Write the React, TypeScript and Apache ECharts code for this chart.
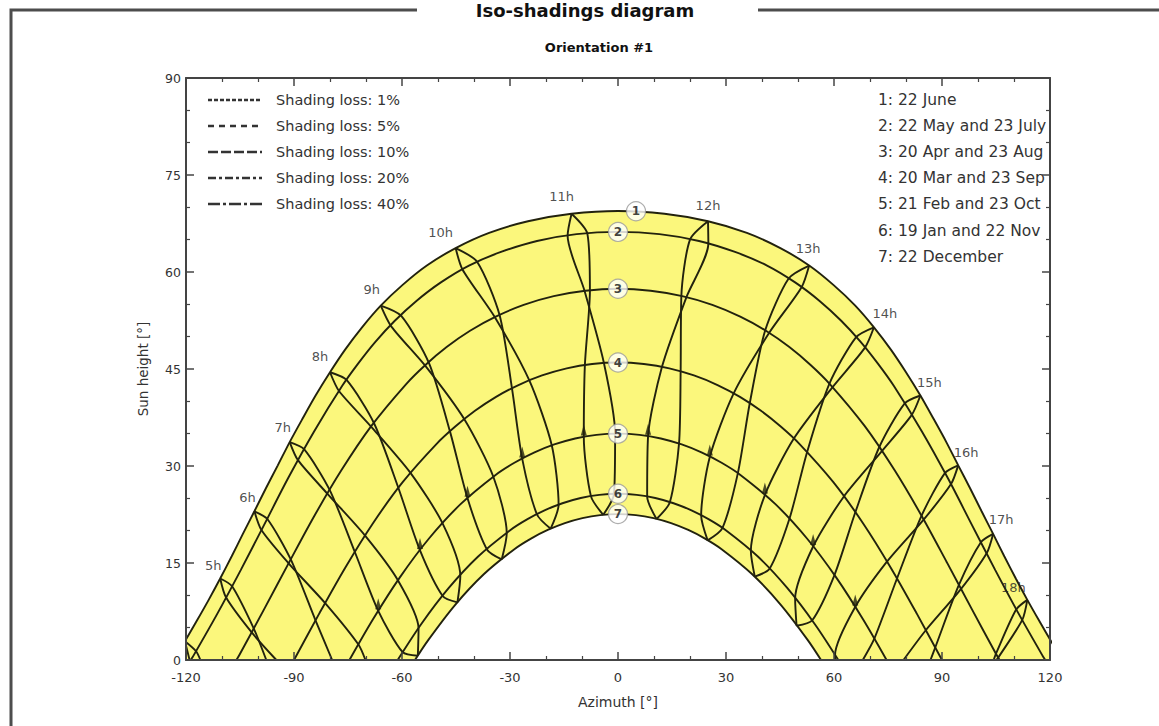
import React, { useEffect, useRef } from "react";
import * as echarts from "echarts";

// ---------- data ----------
const shadingLegend = [
  "Shading loss: 1%",
  "Shading loss: 5%",
  "Shading loss: 10%",
  "Shading loss: 20%",
  "Shading loss: 40%",
];
const dateLegend = [
  "1: 22 June",
  "2: 22 May and 23 July",
  "3: 20 Apr and 23 Aug",
  "4: 20 Mar and 23 Sep",
  "5: 21 Feb and 23 Oct",
  "6: 19 Jan and 22 Nov",
  "7: 22 December",
];
const dateNumbers = ["1", "2", "3", "4", "5", "6", "7"];
const dateNumberPoints = [
  [5, 69.4], [0, 66.2], [0, 57.4], [0, 46.0], [0, 35.0], [0, 25.7], [0, 22.56],
];

// sun paths [azimuth, height]
const curve1 = [
  [-123.6, 0], [-120.3, 2.9], [-117.0, 6.06], [-113.7, 9.3], [-110.5, 12.6], [-107.3, 16.04],
  [-104.2, 19.5], [-101.0, 23.0], [-97.8, 26.56], [-94.5, 30.1], [-91.2, 33.7], [-87.65, 37.3],
  [-84.0, 40.9], [-80.0, 44.5], [-75.8, 48.0], [-71.1, 51.45], [-65.9, 54.8], [-59.9, 57.97],
  [-53.1, 61.0], [-45.1, 63.7], [-35.8, 66.05], [-25.0, 67.85], [-12.9, 69.0], [0, 69.44],
  [12.9, 69.0], [25.0, 67.85], [35.8, 66.05], [45.1, 63.7], [53.1, 61.0], [59.9, 57.97],
  [65.9, 54.8], [71.1, 51.45], [75.8, 48.0], [80.0, 44.5], [84.0, 40.9], [87.65, 37.3],
  [91.2, 33.7], [94.5, 30.1], [97.8, 26.56], [101.0, 23.0], [104.2, 19.5], [107.3, 16.04],
  [110.5, 12.6], [113.7, 9.3], [117.0, 6.06], [120.3, 2.9], [123.6, 0],
];
const curve2 = [
  [-118.7, 0], [-118.1, 0.5], [-111.4, 7.05], [-104.8, 13.9], [-98.3, 20.9], [-91.65, 28.1],
  [-84.5, 35.27], [-76.6, 42.4], [-72.2, 45.83], [-67.4, 49.2], [-62.0, 52.46], [-56.0, 55.53],
  [-49.2, 58.4], [-41.4, 61.0], [-32.5, 63.1], [-22.5, 64.8], [-11.5, 65.85], [0, 66.2],
  [11.5, 65.85], [22.5, 64.8], [32.5, 63.1], [41.4, 61.0], [49.2, 58.4], [56.0, 55.53],
  [62.0, 52.46], [67.4, 49.2], [72.2, 45.83], [76.6, 42.4], [84.5, 35.27], [91.65, 28.1],
  [98.3, 20.9], [104.8, 13.9], [111.4, 7.05], [118.1, 0.5], [118.7, 0],
];
const curve3 = [
  [-106.0, 0], [-105.1, 0.85], [-98.25, 7.9], [-91.4, 15.05], [-84.4, 22.23], [-76.85, 29.33],
  [-68.5, 36.2], [-58.9, 42.64], [-53.5, 45.63], [-47.6, 48.4], [-41.1, 50.92], [-33.96, 53.1],
  [-26.2, 54.92], [-17.85, 56.27], [-9.06, 57.1], [0, 57.4], [9.06, 57.1], [17.85, 56.27],
  [26.2, 54.92], [33.96, 53.1], [41.1, 50.92], [47.6, 48.4], [53.5, 45.63], [58.9, 42.64],
  [68.5, 36.2], [76.85, 29.33], [84.4, 22.23], [91.4, 15.05], [98.25, 7.9], [105.1, 0.85],
  [106.0, 0],
];
const curve4 = [
  [-90, 0], [-83.0, 7.17], [-75.81, 14.24], [-68.15, 21.08], [-59.76, 27.54], [-50.38, 33.43],
  [-45.2, 36.1], [-39.73, 38.53], [-33.87, 40.69], [-27.65, 42.52], [-21.1, 44.0], [-14.24, 45.1],
  [-7.18, 45.77], [0, 46.0], [7.18, 45.77], [14.24, 45.1], [21.1, 44.0], [27.65, 42.52],
  [33.87, 40.69], [39.73, 38.53], [45.2, 36.1], [50.38, 33.43], [59.76, 27.54], [68.15, 21.08],
  [75.81, 14.24], [83.0, 7.17], [90, 0],
];
const curve5 = [
  [-74.6, 0], [-68.1, 6.26], [-60.64, 12.74], [-52.56, 18.75], [-43.73, 24.1], [-34.0, 28.62],
  [-28.78, 30.5], [-23.34, 32.07], [-17.7, 33.33], [-11.9, 34.26], [-5.98, 34.82], [0, 35.0],
  [5.98, 34.82], [11.9, 34.26], [17.7, 33.33], [23.34, 32.07], [28.78, 30.5], [34.0, 28.62],
  [43.73, 24.1], [52.56, 18.75], [60.64, 12.74], [68.1, 6.26], [74.6, 0],
];
const curve6 = [
  [-61.2, 0], [-54.69, 5.53], [-47.06, 11.1], [-38.85, 16.0], [-29.95, 20.07], [-25.26, 21.74],
  [-20.41, 23.13], [-15.44, 24.24], [-10.35, 25.05], [-5.2, 25.53], [0, 25.7], [5.2, 25.53],
  [10.35, 25.05], [15.44, 24.24], [20.41, 23.13], [25.26, 21.74], [29.95, 20.07], [38.85, 16.0],
  [47.06, 11.1], [54.69, 5.53], [61.2, 0],
];
const curve7 = [
  [-56.4, 0], [-52.72, 3.08], [-45.28, 8.5], [-37.29, 13.26], [-28.69, 17.18], [-24.17, 18.78],
  [-19.52, 20.11], [-14.75, 21.17], [-9.89, 21.94], [-4.96, 22.41], [0, 22.56], [4.96, 22.41],
  [9.89, 21.94], [14.75, 21.17], [19.52, 20.11], [24.17, 18.78], [28.69, 17.18], [37.29, 13.26],
  [45.28, 8.5], [52.72, 3.08], [56.4, 0],
];
const dateCurves = [curve1, curve2, curve3, curve4, curve5, curve6, curve7];

// hour lines (legal time), two branches: A = Jan..Jun dates, B = Jul..Nov dates
const hourNames = ["4h", "5h", "6h", "7h", "8h", "9h", "10h", "11h", "12h", "13h", "14h", "15h", "16h", "17h", "18h"];
const hourA = [
  [[-120.3, 2.9], [-117.2, 1.35], [-116.0, 0]],
  [[-110.5, 12.6], [-107.2, 11.4], [-101.2, 4.9], [-97.7, 0]],
  [[-101.0, 23.0], [-97.4, 21.8], [-90.9, 15.55], [-84.0, 6.1], [-79.4, 0]],
  [[-91.2, 33.7], [-87.2, 32.6], [-80.1, 26.3], [-73.1, 16.7], [-66.6, 7.6], [-59.8, 1.2], [-55.6, 0.65]],
  [[-80.0, 44.5], [-75.4, 43.3], [-67.8, 36.65], [-61.0, 26.6], [-55.0, 16.95], [-48.7, 9.9], [-44.6, 8.9]],
  [[-65.9, 54.8], [-60.2, 53.2], [-52.5, 45.9], [-46.6, 35.2], [-41.8, 25.0], [-36.4, 17.1], [-32.3, 15.55]],
  [[-45.1, 63.7], [-39.1, 61.55], [-32.9, 53.35], [-29.45, 42.0], [-26.6, 31.1], [-22.5, 22.5], [-18.7, 20.3]],
  [[-12.9, 69.0], [-8.5, 65.9], [-7.8, 57.15], [-9.2, 45.6], [-9.5, 34.5], [-7.5, 25.3], [-4.1, 22.45]],
  [[25.0, 67.85], [25.1, 64.4], [19.0, 56.1], [12.2, 45.3], [8.35, 34.6], [8.1, 25.3], [10.7, 21.8]],
  [[53.1, 61.0], [51.0, 57.65], [42.0, 50.6], [32.1, 41.2], [25.5, 31.4], [23.1, 22.35], [24.9, 18.5]],
  [[71.1, 51.45], [68.6, 48.3], [59.6, 42.2], [48.8, 34.2], [40.8, 25.5], [36.9, 16.9], [38.0, 12.9]],
  [[84.0, 40.9], [81.6, 37.9], [73.3, 32.3], [62.7, 25.25], [54.2, 17.55], [49.2, 9.5], [49.6, 5.3]],
  [[94.5, 30.1], [92.5, 27.2], [84.9, 21.7], [74.7, 15.2], [65.9, 8.2], [60.3, 0.8], [60.3, 0]],
  [[104.2, 19.5], [102.4, 16.5], [95.3, 11.0], [85.5, 4.6], [79.3, 0]],
  [[113.7, 9.3], [112.3, 6.2], [105.6, 0.35], [105.1, 0]],
];
const hourB = [
  [[-120.3, 2.9], [-119.0, 0]],
  [[-110.5, 12.6], [-108.9, 9.7], [-101.8, 4.3], [-94.9, 0]],
  [[-101.0, 23.0], [-99.05, 20.1], [-91.5, 14.95], [-81.35, 8.8], [-72.1, 2.4], [-70.15, 0]],
  [[-91.2, 33.7], [-88.9, 30.9], [-80.7, 25.7], [-70.2, 19.2], [-61.1, 12.3], [-55.4, 4.9], [-55.6, 0.65]],
  [[-80.0, 44.5], [-77.5, 41.6], [-68.6, 36.1], [-57.6, 28.9], [-48.7, 21.1], [-43.8, 13.0], [-44.6, 8.9]],
  [[-65.9, 54.8], [-63.0, 51.6], [-53.4, 45.4], [-42.6, 37.15], [-34.6, 28.3], [-30.9, 19.6], [-32.3, 15.55]],
  [[-45.1, 63.7], [-43.2, 60.4], [-34.2, 53.0], [-24.6, 43.2], [-18.4, 33.2], [-16.5, 24.0], [-18.7, 20.3]],
  [[-12.9, 69.0], [-14.0, 65.6], [-9.3, 57.1], [-3.9, 45.9], [-0.8, 35.0], [-1.1, 25.7], [-4.1, 22.45]],
  [[25.0, 67.85], [20.0, 65.0], [17.6, 56.3], [17.4, 44.6], [16.95, 33.45], [14.4, 24.4], [10.7, 21.8]],
  [[53.1, 61.0], [47.4, 59.0], [40.9, 51.0], [36.6, 39.7], [33.3, 28.9], [29.0, 20.4], [24.9, 18.5]],
  [[71.1, 51.45], [66.1, 49.9], [58.7, 42.7], [52.5, 32.1], [47.6, 21.8], [42.1, 14.1], [38.0, 12.9]],
  [[84.0, 40.9], [79.6, 39.65], [72.55, 32.9], [65.9, 22.8], [60.1, 13.1], [53.9, 6.1], [49.6, 5.3]],
  [[94.5, 30.1], [90.8, 28.9], [84.3, 22.3], [77.5, 12.6], [71.2, 3.3], [68.0, 0]],
  [[104.2, 19.5], [100.8, 18.2], [94.7, 11.6], [88.1, 1.9], [86.8, 0]],
  [[113.7, 9.3], [110.6, 7.8], [105.0, 1.0], [104.35, 0]],
];

// ---------- layout / style ----------
const YELLOW = "#fbf77c";
const INK = "#22220e";
const AXIS = "#444";
const FONT = "DejaVu Sans";
const hourLabelOffsets: Record<string, number[]> = {
  "5h": [-7, -13], "6h": [-7, -14], "7h": [-7, -15], "8h": [-10, -16], "9h": [-9, -16],
  "10h": [-15, -16], "11h": [-10, -17], "12h": [0, -16], "13h": [-1, -17], "14h": [11, -14],
  "15h": [9, -13], "16h": [8, -13], "17h": [8, -14], "18h": [-14, -12],
};
const legendDashes = [[4, 2], [6, 5], [10, 3], [8, 3, 3, 3], [12, 3, 3, 3]];

function buildOption() {
  const lineBase = { type: "line", symbol: "none", silent: true, clip: true };
  const series: any[] = [];
  series.push({
    ...lineBase, data: curve1, smooth: 0.3, lineStyle: { width: 0 },
    areaStyle: { color: YELLOW, opacity: 1 }, z: 1,
  });
  series.push({
    ...lineBase, data: curve7, smooth: 0.3, lineStyle: { width: 0 },
    areaStyle: { color: "#ffffff", opacity: 1 }, z: 1,
  });
  dateCurves.forEach((c) =>
    series.push({ ...lineBase, data: c, smooth: 0.3, lineStyle: { color: INK, width: 1.9 }, z: 3 })
  );
  [...hourA, ...hourB].forEach((h) =>
    series.push({ ...lineBase, data: h, smooth: 0.25, lineStyle: { color: INK, width: 1.9 }, z: 3 })
  );
  // little arrow heads on the February branch (curve 5 point of each hour line)
  const arrows = hourA.slice(3, 13).map((h) => h[4]);
  series.push({
    type: "scatter", silent: true, z: 4, symbol: "triangle", symbolSize: [6, 11],
    symbolOffset: [0, -7], itemStyle: { color: INK }, data: arrows,
  });
  // hour labels
  series.push({
    type: "scatter", silent: true, z: 5, symbolSize: 0,
    data: hourNames
      .map((n, i) => ({ n, p: hourA[i][0] }))
      .filter((d) => hourLabelOffsets[d.n])
      .map((d) => ({
        name: d.n, value: d.p,
        label: { offset: hourLabelOffsets[d.n] },
      })),
    label: {
      show: true, position: "inside", formatter: "{b}",
      fontFamily: FONT, fontSize: 13, color: "#222",
    },
  });
  // date numbers
  series.push({
    type: "scatter", silent: true, z: 6, symbol: "circle", symbolSize: 19,
    itemStyle: { color: "#ffffff", borderColor: "#9a9a9a", borderWidth: 1.2 },
    data: dateNumbers.map((n, i) => ({ name: n, value: dateNumberPoints[i] })),
    label: {
      show: true, position: "inside", formatter: "{b}",
      fontFamily: FONT, fontSize: 12, fontWeight: "bold", color: "#111",
    },
  });

  const axisCommon = {
    type: "value", z: 10,
    axisLine: { show: true, onZero: false, lineStyle: { color: AXIS, width: 2 } },
    axisTick: { show: true, inside: true, length: 8, lineStyle: { color: AXIS, width: 1.5 } },
    minorTick: { show: true, splitNumber: 3, length: 4, lineStyle: { color: AXIS, width: 1.2 } },
    splitLine: { show: false },
  };
  const graphic: any[] = [
    { type: "polyline", silent: true, shape: { points: [[417, 10], [11, 10], [11, 726]] },
      style: { stroke: "#4d4d4d", lineWidth: 3, fill: null } },
    { type: "line", silent: true, shape: { x1: 758, y1: 10, x2: 1159, y2: 10 },
      style: { stroke: "#4d4d4d", lineWidth: 3 } },
    { type: "text", x: 585, y: 10, silent: true,
      style: { text: "Iso-shadings diagram", fontFamily: FONT, fontSize: 18, fontWeight: "bold",
        fill: "#111", align: "center", verticalAlign: "middle" } },
    { type: "text", x: 599, y: 47, silent: true,
      style: { text: "Orientation #1", fontFamily: FONT, fontSize: 13, fontWeight: "bold",
        fill: "#111", align: "center", verticalAlign: "middle" } },
  ];
  shadingLegend.forEach((t, i) => {
    const y = 100 + i * 26;
    graphic.push({ type: "line", silent: true, shape: { x1: 208, y1: y, x2: 262, y2: y },
      style: { stroke: "#333", lineWidth: 2.5, lineDash: legendDashes[i] } });
    graphic.push({ type: "text", x: 276, y, silent: true,
      style: { text: t, fontFamily: FONT, fontSize: 14.5, fill: "#333", align: "left", verticalAlign: "middle" } });
  });
  dateLegend.forEach((t, i) => {
    const y = 100 + i * 26.1;
    graphic.push({ type: "text", x: 878, y, silent: true,
      style: { text: t, fontFamily: FONT, fontSize: 15.5, fill: "#333", align: "left", verticalAlign: "middle" } });
  });
  // the plot frame clips the date legend on its right side
  graphic.push({ type: "rect", silent: true, shape: { x: 1052, y: 84, width: 107, height: 190 },
    style: { fill: "#ffffff" } });

  return {
    animation: false,
    backgroundColor: "#ffffff",
    textStyle: { fontFamily: FONT },
    grid: { left: 186, right: 109, top: 78, bottom: 66 },
    xAxis: [
      { ...axisCommon, min: -120, max: 120, interval: 30, position: "bottom",
        axisLabel: { fontFamily: FONT, fontSize: 13, color: "#333", margin: 11 },
        name: "Azimuth [°]", nameLocation: "middle", nameGap: 35,
        nameTextStyle: { fontFamily: FONT, fontSize: 14, color: "#333" } },
      { ...axisCommon, min: -120, max: 120, interval: 30, position: "top", axisLabel: { show: false } },
    ],
    yAxis: [
      { ...axisCommon, min: 0, max: 90, interval: 15, position: "left",
        axisLabel: { fontFamily: FONT, fontSize: 12.5, color: "#333", margin: 5 },
        name: "Sun height [°]", nameLocation: "middle", nameGap: 36,
        nameTextStyle: { fontFamily: FONT, fontSize: 13.5, color: "#333" } },
      { ...axisCommon, min: 0, max: 90, interval: 15, position: "right", axisLabel: { show: false } },
    ],
    graphic,
    series,
  };
}

export default function App() {
  const ref = useRef<HTMLDivElement>(null);
  useEffect(() => {
    document.body.style.margin = "0";
    if (!ref.current) return;
    const chart = echarts.init(ref.current, null, { renderer: "svg" });
    chart.setOption(buildOption() as any);
    return () => chart.dispose();
  }, []);
  return <div ref={ref} style={{ width: 1159, height: 726, background: "#fff" }} />;
}
